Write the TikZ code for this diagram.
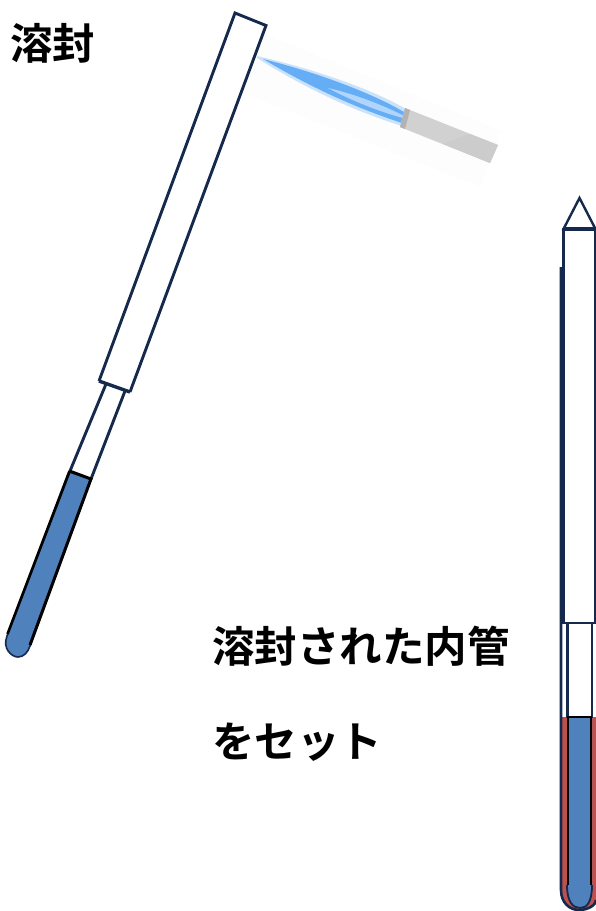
\documentclass[tikz,border=0pt]{standalone}
\usepackage{fontspec}
\setmainfont{Noto Sans CJK JP}[BoldFont={Noto Sans CJK JP Bold}]
\definecolor{tubeline}{HTML}{14294B}
\definecolor{liquid}{HTML}{4F81BD}
\definecolor{redliq}{HTML}{C0504D}
\definecolor{flameblue}{HTML}{5AA8F5}
\definecolor{flamelight}{HTML}{CFE6FF}
\tikzset{
  tube/.style={draw=tubeline,line width=2.9pt,fill=white,line join=miter},
  jp/.style={font=\bfseries\fontsize{42.5}{50}\selectfont,anchor=west,inner sep=0pt},
}
\begin{document}
\begin{tikzpicture}[x=1pt,y=-1pt]
\useasboundingbox (0,0) rectangle (596,911);
% faint halo of the burner picture
\fill[black!0.7] (263,33) -- (502,131) -- (480,187) -- (243,93) -- cycle;
% flame
\fill[flameblue,opacity=.3] (257,56) .. controls (310,68) and (370,88) .. (406,109) -- (402,126) .. controls (350,110) and (300,85) .. (257,58) -- cycle;
\fill[flameblue,opacity=.9] (263,59) .. controls (315,72) and (370,92) .. (404,112) -- (402,123) .. controls (350,106) and (305,84) .. (263,59) -- cycle;
\fill[flamelight,opacity=.7] (328,88) .. controls (355,94) and (385,106) .. (404,116) -- (403,118) .. controls (380,112) and (350,100) .. (328,88) -- cycle;
% burner
\fill[black!18] (405,108) -- (498,145) -- (490,163) -- (400,127) -- cycle;
\fill[black!20] (443,144) -- (470,134) -- (498,145) -- (490,163) -- cycle;
\fill[black!30] (405,108) -- (410,110) -- (405,129) -- (400,127) -- cycle;
% left tube
\draw[tube] (99,381) -- (235,13) -- (266,25.5) -- (130,392);
\draw[tube] (106,384) -- (70,471);
\draw[tube] (125,391) -- (91,479);
\draw[fill=liquid,draw=tubeline,line width=1.6pt] (70,472) -- (7,636) .. controls (2,649) and (12,657) .. (18,657) .. controls (24,657) and (28,652) .. (30,646) -- (91,479) -- cycle;
\draw[black,line width=2.6pt] (69.5,471) -- (7.5,634);
\draw[black,line width=3pt] (69.5,471) -- (91,479) -- (30,645);
\draw[tubeline,line width=3.4pt] (99,381) -- (130,392);
% right tube: outer
\fill[redliq] (561,717) -- (561,890) .. controls (561,903) and (570,910) .. (579,910) .. controls (588,910) and (596,905) .. (596,900) -- (596,717) -- cycle;
\draw[tubeline,line width=2.6pt] (561,267) -- (561,890) .. controls (561,903) and (570,910) .. (579,910) .. controls (588,910) and (596,905) .. (596,900);
% right tube: inner
\draw[tubeline,line width=2.6pt,fill=white] (567.5,623) rectangle (592,717);
\fill[liquid] (567,717) -- (567,885) .. controls (567,902) and (573,908) .. (580,908) .. controls (587,908) and (592,902) .. (592,885) -- (592,717) -- cycle;
\draw[black,line width=2.8pt] (568,885) -- (568,717) -- (591,717) -- (591,885);
\draw[tubeline,line width=1.8pt] (567,885) .. controls (567,902) and (573,908) .. (580,908) .. controls (587,908) and (592,902) .. (592,885);
% right tube: sealed upper part
\draw[tubeline,line width=2.8pt,fill=white] (563.5,623) rectangle (595.5,229.5);
\draw[tubeline,line width=2.4pt,fill=white] (563.5,229) -- (579.5,198) -- (595.5,229) -- cycle;
\draw[tubeline,line width=3.6pt] (563.5,229) -- (595.5,229);
% labels
\node[jp] (seal) at (10,43) {溶封};
\node[jp] (line1) at (212,646) {溶封された内管};
\node[jp] (line2) at (212,742) {をセット};
\end{tikzpicture}
\end{document}
